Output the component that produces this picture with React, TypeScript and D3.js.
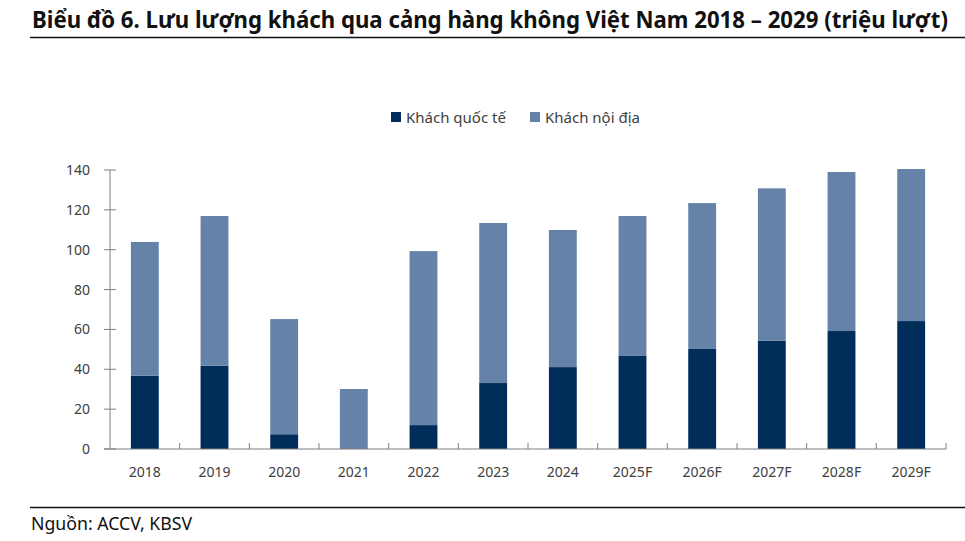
import React from "react";
import * as d3 from "d3";

const categories = ["2018","2019","2020","2021","2022","2023","2024","2025F","2026F","2027F","2028F","2029F"];
const international = [36.8, 41.8, 7.4, 0.3, 12.0, 33.1, 41.1, 46.7, 50.2, 54.3, 59.2, 64.2];
const totals = [103.9, 116.9, 65.2, 30.1, 99.3, 113.4, 109.9, 116.9, 123.4, 130.8, 139.0, 140.5];
const domestic = totals.map((t, i) => +(t - international[i]).toFixed(1));
const yTicks = [0, 20, 40, 60, 80, 100, 120, 140];
const seriesNames = ["Khách quốc tế", "Khách nội địa"];
const colors = ["#012d5b", "#6583a8"];

export default function App() {
  const W = 965, H = 541;
  const x0 = 110, x1 = 946, yTop = 170, yBot = 449;
  const x = d3.scaleBand().domain(categories).range([x0, x1]).paddingInner(0.6).paddingOuter(0.3);
  const y = d3.scaleLinear().domain([0, 140]).range([yBot, yTop]);
  const stack = d3.stack<any>().keys(["intl", "dom"])(
    categories.map((c, i) => ({ cat: c, intl: international[i], dom: domestic[i] }))
  );
  const step = (x1 - x0) / categories.length;
  const axisColor = "#7f7f7f";
  const textColor = "#404040";
  const font = "'Noto Sans', 'Open Sans', sans-serif";
  return (
    <svg width={W} height={H} style={{ position: "absolute", left: 0, top: 0, background: "#fff" }}>
      <g transform="translate(32,27.5) scale(1,1.08)">
        <text x={0} y={0} fontFamily={font} fontWeight="bold" fontSize={22} fill="#111"
          textLength={916} lengthAdjust="spacingAndGlyphs">
          Biểu đồ 6. Lưu lượng khách qua cảng hàng không Việt Nam 2018 – 2029 (triệu lượt)
        </text>
      </g>
      <line x1={30} x2={965} y1={37.5} y2={37.5} stroke="#111" strokeWidth={1.5} />

      {/* legend */}
      {seriesNames.map((n, i) => {
        const lx = i === 0 ? 391 : 530;
        return (
          <g key={n}>
            <rect x={lx} y={112} width={10} height={10} fill={colors[i]} />
            <text x={lx + 15} y={123} fontFamily={font} fontSize={15} fill={textColor}>{n}</text>
          </g>
        );
      })}

      {/* bars */}
      {stack.map((s, si) =>
        s.map((d, i) => (
          <rect key={si + "-" + i} x={x(categories[i])} width={x.bandwidth()}
            y={y(d[1])} height={Math.max(0, y(d[0]) - y(d[1]))} fill={colors[si]} />
        ))
      )}

      {/* y axis */}
      <line x1={x0} x2={x0} y1={yTop} y2={yBot} stroke={axisColor} strokeWidth={1} />
      {yTicks.map(t => (
        <g key={t}>
          <line x1={x0 - 6} x2={x0 + 6} y1={y(t)} y2={y(t)} stroke={axisColor} />
          <text x={90} y={y(t) + 5} textAnchor="end" fontFamily={font} fontSize={14} fill={textColor}>{t}</text>
        </g>
      ))}

      {/* x axis */}
      <line x1={x0 - 6} x2={x1} y1={yBot} y2={yBot} stroke={axisColor} />
      {categories.map((c, i) => (
        <g key={c}>
          <line x1={x0 + step * (i + 1)} x2={x0 + step * (i + 1)} y1={yBot - 6} y2={yBot} stroke={axisColor} />
          <text x={x0 + step * (i + 0.5)} y={477} textAnchor="middle" fontFamily={font} fontSize={14} fill={textColor}>{c}</text>
        </g>
      ))}

      <line x1={30} x2={965} y1={507.5} y2={507.5} stroke="#111" strokeWidth={1.5} />
      <text x={31} y={530} fontFamily={font} fontSize={18} fill="#111" textLength={161} lengthAdjust="spacingAndGlyphs">Nguồn: ACCV, KBSV</text>
    </svg>
  );
}
